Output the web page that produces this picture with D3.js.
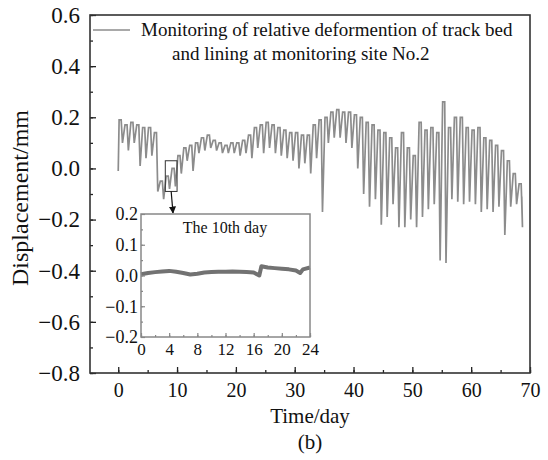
<!DOCTYPE html>
<html>
<head>
<meta charset="utf-8">
<script src="https://cdn.jsdelivr.net/npm/d3@7"></script>
<style>
  body { margin: 0; background: #fff; }
  svg text { font-family: "Liberation Serif", "Times New Roman", serif; fill: #111; }
</style>
</head>
<body>
<div id="vis"></div>
<script>
// daily peak / trough of the relative deformation (mm), day 0 .. 68
const dayHigh = [0.19, 0.17, 0.18, 0.17, 0.16, 0.16, 0.14, -0.05, -0.03, 0.00,
  0.05, 0.08, 0.09, 0.10, 0.12, 0.13, 0.11, 0.10, 0.09, 0.10,
  0.10, 0.11, 0.13, 0.16, 0.17, 0.18, 0.17, 0.16, 0.15, 0.14,
  0.14, 0.13, 0.13, 0.17, 0.19, 0.20, 0.22, 0.23, 0.22, 0.22,
  0.21, 0.20, 0.18, 0.17, 0.15, 0.14, 0.12, 0.08, 0.14, 0.08,
  0.05, 0.18, 0.15, 0.16, 0.14, 0.26, 0.16, 0.20, 0.20, 0.16,
  0.15, 0.16, 0.12, 0.11, 0.09, 0.07, 0.03, -0.02, -0.06];
const dayLow = [0.10, 0.07, 0.10, 0.01, 0.04, 0.05, -0.09, -0.12, -0.08, -0.07,
  -0.02, 0.03, -0.01, 0.06, 0.07, 0.08, 0.07, 0.06, 0.06, 0.06,
  0.05, 0.06, 0.04, 0.08, 0.06, 0.08, 0.06, 0.05, 0.04, 0.03,
  0.00, 0.02, -0.02, 0.04, -0.17, 0.10, 0.12, 0.12, 0.10, 0.08,
  0.00, -0.10, -0.15, -0.12, -0.22, -0.19, -0.14, -0.23, -0.23, -0.20,
  -0.23, -0.19, -0.16, -0.14, -0.36, -0.37, -0.12, -0.13, -0.14, -0.13,
  -0.14, -0.17, -0.16, -0.17, -0.15, -0.26, -0.15, -0.14, -0.23];
const startValue = -0.01;
const endValue = -0.11;

// inset: the 10th day, hour -> mm
const insetHours = [0, 1, 2, 3, 4, 5, 6, 7, 8, 9, 10, 11, 12, 13, 14, 15, 16, 16.8, 17.1,
  18, 19, 20, 21, 22, 22.6, 23, 24];
const insetValues = [0.004, 0.008, 0.011, 0.013, 0.015, 0.012, 0.008, 0.003, 0.006, 0.010,
  0.011, 0.012, 0.012, 0.013, 0.012, 0.011, 0.010, 0.000, 0.030, 0.026,
  0.024, 0.022, 0.020, 0.016, 0.008, 0.020, 0.026];

const xTicks = [0, 10, 20, 30, 40, 50, 60, 70];
const yTicks = [-0.8, -0.6, -0.4, -0.2, 0.0, 0.2, 0.4, 0.6];
const insetXTicks = [0, 4, 8, 12, 16, 20, 24];
const insetYTicks = [-0.2, -0.1, 0.0, 0.1, 0.2];
const zoomBox = { x0: 8, x1: 10, y0: -0.09, y1: 0.03 };
const legendText = ["Monitoring of relative deformention of track bed",
  "and lining at monitoring site No.2"];

const W = 548, H = 460;
const fmt = v => d3.format(".1f")(v).replace("-", "\u2212");

const svg = d3.select("#vis").append("svg").attr("width", W).attr("height", H);

const x = d3.scaleLinear().domain([-4.8, 70]).range([90, 530]);
const y = d3.scaleLinear().domain([-0.8, 0.6]).range([373, 15]);

// series points: start, then for each day the level it holds and the dip
const series = [[0, startValue]];
dayHigh.forEach((h, d) => {
  series.push([d + 0.15, h]);
  series.push([d + 0.5, h]);
  series.push([d + 0.72, dayLow[d]]);
});
series.push([68.6, endValue]);

const line = d3.line().x(d => x(d[0])).y(d => y(d[1]));

svg.append("path")
  .datum(series)
  .attr("fill", "none")
  .attr("stroke", "#8c8c8c")
  .attr("stroke-width", 1.7)
  .attr("d", line);

// axes, ticks inward
const gx = svg.append("g").attr("transform", "translate(0,373)")
  .call(d3.axisBottom(x).tickValues(d3.range(0, 71, 5)).tickSize(-3).tickFormat(""));
const gxMajor = svg.append("g").attr("transform", "translate(0,373)")
  .call(d3.axisBottom(x).tickValues(xTicks).tickSize(-6).tickPadding(10).tickFormat(d3.format("d")));
gxMajor.selectAll("text").attr("font-size", 20).attr("dy", "0.71em");

const gy = svg.append("g").attr("transform", "translate(90,0)")
  .call(d3.axisLeft(y).tickValues(d3.range(-0.8, 0.61, 0.1)).tickSize(-3).tickFormat(""));
const gyMajor = svg.append("g").attr("transform", "translate(90,0)")
  .call(d3.axisLeft(y).tickValues(yTicks).tickSize(-6).tickPadding(10).tickFormat(fmt));
gyMajor.selectAll("text").attr("font-size", 23);
[gx, gxMajor, gy, gyMajor].forEach(g =>
  g.selectAll(".tick line").attr("stroke", "#222").attr("stroke-width", 1.3));
svg.selectAll(".domain").remove();

svg.append("rect")
  .attr("x", 90).attr("y", 15).attr("width", 440).attr("height", 358)
  .attr("fill", "none").attr("stroke", "#333").attr("stroke-width", 1.6);

// legend
svg.append("line")
  .attr("x1", 93).attr("x2", 130).attr("y1", 30).attr("y2", 30)
  .attr("stroke", "#8c8c8c").attr("stroke-width", 1.4);
svg.append("text").attr("x", 141).attr("y", 36).attr("font-size", 19).text(legendText[0]);
svg.append("text").attr("x", 172).attr("y", 60).attr("font-size", 19).text(legendText[1]);

// axis titles
svg.append("text")
  .attr("transform", "translate(28,198) rotate(-90)")
  .attr("text-anchor", "middle").attr("font-size", 24)
  .text("Displacement/mm");
svg.append("text").attr("x", 310).attr("y", 423)
  .attr("text-anchor", "middle").attr("font-size", 21).text("Time/day");
svg.append("text").attr("x", 310).attr("y", 449)
  .attr("text-anchor", "middle").attr("font-size", 21).text("(b)");

// zoom box and arrow
svg.append("defs").append("marker")
  .attr("id", "arrow").attr("viewBox", "0 0 10 10")
  .attr("refX", 9).attr("refY", 5)
  .attr("markerWidth", 6).attr("markerHeight", 7).attr("orient", "auto")
  .append("path").attr("d", "M0,0L10,5L0,10z").attr("fill", "#111");

svg.append("rect")
  .attr("x", x(zoomBox.x0)).attr("y", y(zoomBox.y1))
  .attr("width", x(zoomBox.x1) - x(zoomBox.x0))
  .attr("height", y(zoomBox.y0) - y(zoomBox.y1))
  .attr("fill", "none").attr("stroke", "#333").attr("stroke-width", 1);

// inset
const ix = d3.scaleLinear().domain([0, 24]).range([141, 310]);
const iy = d3.scaleLinear().domain([-0.2, 0.2]).range([337, 214]);

svg.append("line")
  .attr("x1", (x(zoomBox.x0) + x(zoomBox.x1)) / 2).attr("y1", y(zoomBox.y0))
  .attr("x2", 173).attr("y2", 213)
  .attr("stroke", "#111").attr("stroke-width", 1.2)
  .attr("marker-end", "url(#arrow)");

svg.append("rect")
  .attr("x", 141).attr("y", 214).attr("width", 169).attr("height", 123)
  .attr("fill", "#fff");

svg.append("path")
  .datum(insetHours.map((h, i) => [h, insetValues[i]]))
  .attr("fill", "none")
  .attr("stroke", "#727272")
  .attr("stroke-width", 4)
  .attr("stroke-linejoin", "round")
  .attr("d", d3.line().x(d => ix(d[0])).y(d => iy(d[1])));

const igx = svg.append("g").attr("transform", "translate(0,337)")
  .call(d3.axisBottom(ix).tickValues(d3.range(0, 25, 2)).tickSize(-2).tickFormat(""));
const igxMajor = svg.append("g").attr("transform", "translate(0,337)")
  .call(d3.axisBottom(ix).tickValues(insetXTicks).tickSize(-4).tickPadding(6).tickFormat(d3.format("d")));
igxMajor.selectAll("text").attr("font-size", 17).attr("dy", "0.71em");

const igy = svg.append("g").attr("transform", "translate(141,0)")
  .call(d3.axisLeft(iy).tickValues(d3.range(-0.2, 0.201, 0.05)).tickSize(-2).tickFormat(""));
const igyMajor = svg.append("g").attr("transform", "translate(141,0)")
  .call(d3.axisLeft(iy).tickValues(insetYTicks).tickSize(-4).tickPadding(3).tickFormat(fmt));
igyMajor.selectAll("text").attr("font-size", 18);
svg.selectAll(".domain").remove();
[igx, igxMajor, igy, igyMajor].forEach(g =>
  g.selectAll(".tick line").attr("stroke", "#888").attr("stroke-width", 1.2));

svg.append("rect")
  .attr("x", 141).attr("y", 214).attr("width", 169).attr("height", 123)
  .attr("fill", "none").attr("stroke", "#888").attr("stroke-width", 1.5);

svg.append("text").attr("x", 225).attr("y", 233)
  .attr("text-anchor", "middle").attr("font-size", 16).text("The 10th day");
</script>
</body>
</html>
